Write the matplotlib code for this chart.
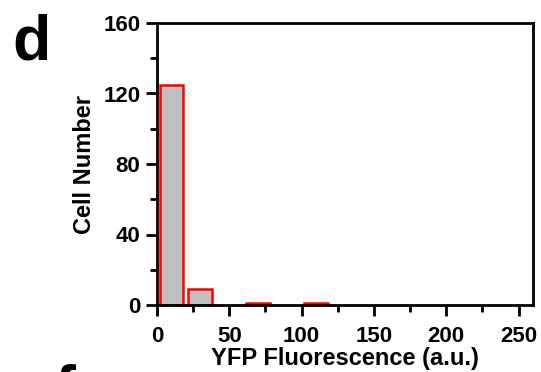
import matplotlib
matplotlib.use("Agg")
import matplotlib.pyplot as plt
from matplotlib.ticker import MultipleLocator

# histogram data
bin_centers = [10, 30, 70, 110]
cell_counts = [125, 9, 1, 1]

plt.rcParams['font.family'] = ['Liberation Sans', 'DejaVu Sans']
plt.rcParams['font.weight'] = 'bold'

fig = plt.figure(figsize=(5.41, 3.72), dpi=100, facecolor='white')
ax = fig.add_axes([157/541, 1 - 305/372, (533-157)/541, (305-23)/372])

ax.bar(bin_centers, cell_counts, width=16.5, color='#c0c0c0',
       edgecolor='#ff0000', linewidth=1.8)

ax.set_xlim(0, 260)
ax.set_ylim(0, 160)
ax.xaxis.set_major_locator(MultipleLocator(50))
ax.xaxis.set_minor_locator(MultipleLocator(25))
ax.yaxis.set_major_locator(MultipleLocator(40))
ax.yaxis.set_minor_locator(MultipleLocator(20))

for s in ax.spines.values():
    s.set_linewidth(2)
ax.tick_params(which='both', direction='out', top=False, right=False, width=2)
ax.tick_params(which='major', length=8, labelsize=16)
ax.tick_params(axis='x', which='major', pad=7)
ax.tick_params(axis='y', which='major', pad=4)
ax.tick_params(which='minor', length=5)

ax.set_xlabel('YFP Fluorescence (a.u.)', fontsize=17, fontweight='bold', labelpad=0)
ax.set_ylabel('Cell Number', fontsize=17, fontweight='bold', labelpad=5)

fig.text(12/541, 1 - 60/372, 'd', fontsize=45, fontweight='bold', ha='left', va='baseline')
fig.text(55/541, 1 - 410/372, 'f', fontsize=45, fontweight='bold', ha='left', va='baseline')

fig.savefig('out.png', dpi=100)
